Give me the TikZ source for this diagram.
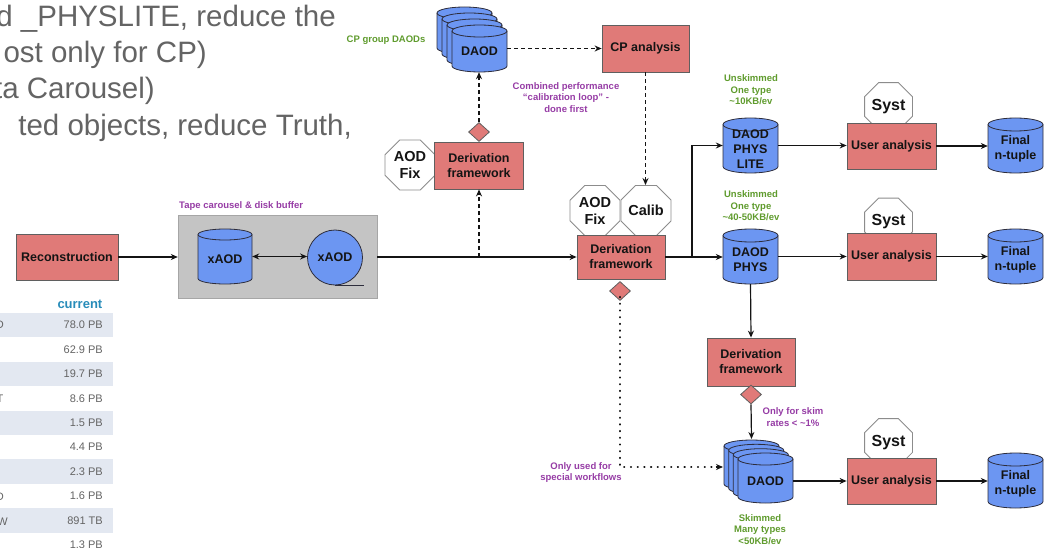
\documentclass[tikz,border=0pt]{standalone}
\usepackage{fontspec}
\setmainfont{Liberation Sans}
\usetikzlibrary{shapes.geometric,arrows.meta}

\definecolor{boxred}{RGB}{224,122,120}
\definecolor{boxline}{RGB}{95,95,95}
\definecolor{cylblue}{RGB}{108,150,242}
\definecolor{cylline}{RGB}{45,45,60}
\definecolor{octline}{RGB}{140,140,140}
\definecolor{tapegray}{RGB}{196,196,196}
\definecolor{purp}{RGB}{150,60,165}
\definecolor{grn}{RGB}{95,155,45}
\definecolor{bigtext}{RGB}{100,100,100}
\definecolor{rowshade}{RGB}{227,232,241}
\definecolor{headblue}{RGB}{40,140,185}
\definecolor{ink}{RGB}{20,20,20}

% cylinder outline: left, top, right, bottom, half height of the end ellipse
\newcommand\drum[5]{%
  \filldraw[cyl] (#1,#2+#5) -- (#1,#4-#5)
    arc[start angle=180,end angle=0,x radius={(#3-#1)/2},y radius=#5]
    -- (#3,#2+#5)
    arc[start angle=0,end angle=-180,x radius={(#3-#1)/2},y radius=#5] -- cycle;
  \draw[cyl,fill=none] (#1,#2+#5)
    arc[start angle=180,end angle=0,x radius={(#3-#1)/2},y radius=#5];
}
% cylinder with an anchor node and a text node: name, left, top, right, bottom, ry, text
\newcommand\cylnode[7]{%
  \drum{#2}{#3}{#4}{#5}{#6}
  \node[anchorbox, minimum width={#4-#2}, minimum height={#5-#3}] (#1) at ({(#2+#4)/2},{(#3+#5)/2}) {};
  \node[cyltext] (#1-t) at ({(#2+#4)/2},{(#3+#5)/2+#6/2}) {#7};
}

\begin{document}
\begin{tikzpicture}[x=1pt,y=-1pt,
  cyl/.style={fill=cylblue, draw=cylline, line width=0.8pt},
  anchorbox/.style={inner sep=0pt, draw=none},
  cyltext/.style={inner sep=0pt, align=center, text=ink, font=\fontsize{12.5}{15}\selectfont\bfseries},
  box/.style={draw=boxline, fill=boxred, line width=0.8pt, inner sep=0pt, align=center, text=ink, font=\fontsize{12.5}{15}\selectfont\bfseries},
  oct/.style={regular polygon, regular polygon sides=8, draw=octline, fill=white, line width=0.8pt, inner sep=0pt, align=center, text=ink},
  fixoct/.style={oct, minimum size=54pt, font=\fontsize{14.5}{17}\selectfont\bfseries},
  systoct/.style={oct, minimum size=46.5pt, font=\fontsize{16}{18}\selectfont\bfseries},
  gate/.style={diamond, draw=boxline, fill=boxred, line width=0.8pt, inner sep=0pt, minimum width=21pt, minimum height=19pt},
  note/.style={inner sep=0pt, align=center, font=\fontsize{9.5}{11.5}\selectfont\bfseries},
  pnote/.style={note, text=purp},
  gnote/.style={note, text=grn},
  flow/.style={line width=1.2pt, draw=ink, -{Stealth[length=7pt,width=6pt]}},
  dflow/.style={flow, dash pattern=on 4pt off 3pt},
  oflow/.style={line width=1.9pt, draw=ink, line cap=round, dash pattern=on 0.4pt off 6.3pt},
  bigline/.style={inner sep=0pt, anchor=base east, text=bigtext, font=\fontsize{29.5}{34}\selectfont},
  tabtext/.style={inner sep=0pt, anchor=east, text=bigtext, font=\fontsize{11}{13}\selectfont},
]
\useasboundingbox (0,0) rectangle (1048,548);
\clip (0,0) rectangle (1048,548);

% ---- bullet text running in from the left ----
\node[bigline] (t1) at (336,27) {d \_PHYSLITE, reduce the};
\node[bigline] (t2) at (207,63) {ost only for CP)};
\node[bigline] (t3) at (155,99) {ta Carousel)};
\node[bigline] (t4) at (352,136) {ted objects, reduce Truth,};

% ---- data volume table ----
\foreach \i in {0,2,4,6,8}
  \fill[rowshade] (0,{325+24.44*\i-12.2}) rectangle (113,{325+24.44*\i+12.2});
\node[inner sep=0pt, anchor=east, text=headblue, font=\fontsize{13}{15}\selectfont\bfseries] (cur) at (102.5,304) {current};
\foreach \v [count=\i from 0] in {78.0 PB,62.9 PB,19.7 PB,8.6 PB,1.5 PB,4.4 PB,2.3 PB,1.6 PB,891 TB,1.3 PB}
  \node[tabtext] (val\i) at (103,{325+24.44*\i}) {\v};
\node[tabtext] (f1) at (4,325) {D};
\node[tabtext] (f4) at (3.5,398.3) {T};
\node[tabtext] (f8) at (4,496.5) {D};
\node[tabtext] (f9) at (8,521.7) {W};

% ---- reconstruction and tape carousel ----
\node[box, minimum width=102pt, minimum height=46pt] (reco) at (67,257) {Reconstruction};
\node[fill=tapegray, draw=gray!70, line width=0.4pt, inner sep=0pt, minimum width=199pt, minimum height=83pt] (tape) at (277.5,256.5) {};
\node[pnote, anchor=west] (tapelbl) at (179,206.5) {Tape carousel \& disk buffer};
\cylnode{xaodd}{198}{229}{252}{284}{5.5}{xAOD}
\node[circle, fill=cylblue, draw=cylline, line width=0.8pt, inner sep=0pt, minimum size=55pt, text=ink, font=\fontsize{12.5}{15}\selectfont\bfseries] (xaodt) at (335,257.5) {xAOD};
\draw[line width=0.9pt, draw=cylline] (xaodt.south) -- ++(29,0);

% ---- CP calibration loop ----
\drum{437}{7}{492}{54}{6}
\drum{442}{13}{497}{60}{6}
\drum{447}{19}{502}{66}{6}
\cylnode{cpdaod}{452}{25}{507}{72}{6}{DAOD}
\node[gnote] (cplbl) at (386,40) {CP group DAODs};
\node[box, minimum width=87pt, minimum height=47pt] (cpana) at (645.5,48.5) {CP analysis};
\node[pnote] (looplbl) at (566,97.5) {Combined performance\\``calibration loop'' -\\done first};
\node[fixoct] (fix1) at (410,165) {AOD\\Fix};
\node[box, minimum width=89pt, minimum height=47pt] (deriv1) at (479,165.5) {Derivation\\framework};
\node[gate] (gate1) at (479,132) {};

% ---- main derivation ----
\node[fixoct] (fix2) at (595,210.5) {AOD\\Fix};
\node[fixoct] (calib) at (646,210.5) {Calib};
\node[box, minimum width=88pt, minimum height=44pt] (deriv) at (621,257) {Derivation\\framework};
\node[gate] (gate2) at (620,291) {};
\node[pnote] (speclbl) at (581,472.5) {Only used for\\special workflows};

% ---- PHYSLITE row ----
\node[gnote] (litelbl) at (751,90) {Unskimmed\\One type\\\textasciitilde10KB/ev};
\cylnode{physlite}{723}{118}{778}{173}{6.5}{DAOD\\PHYS\\LITE}
\node[systoct] (syst1) at (888.5,106.5) {Syst};
\node[box, minimum width=89pt, minimum height=46pt] (ua1) at (891.5,146) {User analysis};
\cylnode{fin1}{988}{118}{1043}{173}{6.5}{Final\\n-tuple}

% ---- PHYS row ----
\node[gnote] (physlbl) at (751,206) {Unskimmed\\One type\\\textasciitilde40-50KB/ev};
\cylnode{phys}{723}{229}{778}{284}{6.5}{DAOD\\PHYS}
\node[systoct] (syst2) at (888.5,222) {Syst};
\node[box, minimum width=89pt, minimum height=47pt] (ua2) at (891.5,256.5) {User analysis};
\cylnode{fin2}{988}{229}{1043}{284}{6.5}{Final\\n-tuple}

% ---- skimmed row ----
\node[box, minimum width=88pt, minimum height=48pt] (deriv3) at (751,362) {Derivation\\framework};
\node[gate] (gate3) at (751,394.5) {};
\node[pnote] (skimlbl) at (793,417) {Only for skim\\rates < \textasciitilde1\%};
\drum{724}{440}{779}{490}{6}
\drum{728.7}{444.3}{783.7}{494.3}{6}
\drum{733.3}{448.7}{788.3}{498.7}{6}
\cylnode{skim}{738}{453}{793}{503}{6}{DAOD}
\node[gnote] (skimsz) at (760,529.5) {Skimmed\\Many types\\<50KB/ev};
\node[systoct] (syst3) at (888.5,442.5) {Syst};
\node[box, minimum width=89pt, minimum height=46pt] (ua3) at (891.5,481) {User analysis};
\cylnode{fin3}{988}{453}{1043}{508}{6.5}{Final\\n-tuple}

% ---- connectors ----
\coordinate (split1) at (deriv1.south |- deriv.west);
\coordinate (split2) at (692,257);
\coordinate (skimtop) at (751.5,439);
\coordinate (skimside) at (723,467);
\coordinate (bend) at (gate2.south |- skimside);

\draw[flow] (reco.east) -- (reco.east -| tape.west);
\draw[flow, {Stealth[length=7pt,width=6pt]}-{Stealth[length=7pt,width=6pt]}] (xaodd.east) -- (xaodd.east -| xaodt.west);
\draw[flow] (tape.east |- deriv.west) -- (deriv.west);
\draw[dflow] (split1) -- (deriv1.south);
\draw[dflow] (gate1.north) -- (gate1.north |- cpdaod.south);
\draw[dflow] (cpdaod.east) -- (cpdaod.east -| cpana.west);
\draw[dflow] (cpana.south) -- (cpana.south |- calib.north);
\draw[flow] (deriv.east) -- (deriv.east -| phys.west);
\draw[flow] (split2) |- (physlite.west);
\draw[flow] (physlite.east) -- (physlite.east -| ua1.west);
\draw[flow] (ua1.east) -- (ua1.east -| fin1.west);
\draw[flow] (phys.east) -- (phys.east -| ua2.west);
\draw[flow] (ua2.east) -- (ua2.east -| fin2.west);
\draw[flow] (phys.south) -- (deriv3.north);
\draw[flow] (gate3.south) -- (skimtop);
% dotted side path into the skimmed stack
\draw[oflow] ([yshift=4pt]gate2.south) -- (bend) -- ([xshift=-7pt]skimside);
\draw[flow, shorten <=0pt] ([xshift=-7.5pt]skimside) -- (skimside);
\draw[flow] (skim.east |- ua3.west) -- (ua3.west);
\draw[flow] (ua3.east) -- (ua3.east -| fin3.west);
\end{tikzpicture}
\end{document}
